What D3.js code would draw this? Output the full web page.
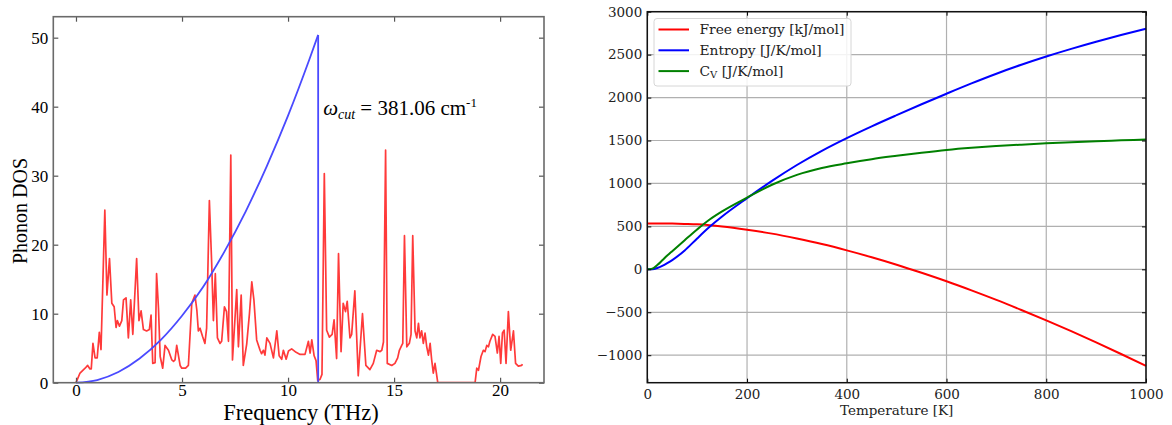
<!DOCTYPE html>
<html><head><meta charset="utf-8">
<script src="https://cdn.jsdelivr.net/npm/d3@7"></script>
<style>
html,body{margin:0;padding:0;background:#fff;}
svg{display:block;}
</style></head>
<body>
<svg id="chart" width="1172" height="425"></svg>
<script>
// ---------- Left panel: phonon DOS ----------
const dosFreq = [0.00,0.19,0.43,0.55,0.66,0.72,0.80,0.90,1.00,1.10,1.18,1.36,1.46,1.58,1.69,1.80,1.89,1.95,2.05,2.16,2.24,2.36,2.47,2.58,2.68,2.86,2.97,3.07,3.18,3.33,3.46,3.54,3.62,3.73,3.80,3.89,3.97,4.09,4.20,4.36,4.52,4.60,4.67,4.75,4.91,4.99,5.17,5.30,5.46,5.61,5.70,5.77,5.85,5.97,6.08,6.16,6.29,6.40,6.48,6.57,6.67,6.79,6.87,7.00,7.10,7.19,7.30,7.38,7.58,7.66,7.79,7.89,8.05,8.18,8.29,8.39,8.52,8.68,8.75,8.84,8.91,9.00,9.15,9.31,9.47,9.58,9.70,9.78,9.91,10.02,10.17,10.38,10.57,10.80,10.96,11.04,11.12,11.23,11.32,11.40,11.51,11.60,11.71,11.82,11.95,12.08,12.17,12.29,12.38,12.50,12.60,12.71,12.79,12.92,13.00,13.15,13.31,13.51,13.67,13.86,14.02,14.18,14.34,14.42,14.50,14.60,14.68,14.89,15.04,15.17,15.25,15.36,15.41,15.49,15.60,15.72,15.80,15.88,15.99,16.07,16.15,16.22,16.30,16.38,16.46,16.54,16.62,16.70,16.77,16.85,16.93,17.06,18.82,18.90,18.98,19.10,19.21,19.29,19.37,19.45,19.52,19.65,19.76,19.87,19.95,20.03,20.11,20.19,20.28,20.39,20.50,20.63,20.73,20.86,21.02,21.05];
const dosValue = [0,1.4,2.1,2.5,2.0,2.0,5.7,3.6,3.6,7.3,4.8,25.0,12.7,18.0,11.5,11.0,8.0,9.0,8.2,9.0,12.0,12.3,6.5,12.0,7.0,18.0,9.0,10.4,7.7,7.5,7.7,9.8,2.8,2.9,15.8,10.8,3.8,2.1,5.4,4.7,3.3,3.1,3.3,5.4,2.5,2.1,2.1,2.5,11.5,12.7,10.5,7.5,7.9,6.7,5.7,7.9,26.4,17.2,9.0,15.8,6.5,5.7,6.0,11.0,10.3,6.0,33.0,3.3,13.5,5.2,12.7,2.5,5.6,10.0,14.6,12.0,6.2,4.7,4.2,4.7,4.0,6.5,5.7,3.6,7.5,3.9,3.4,4.7,3.4,4.6,4.9,4.4,4.1,4.1,6.0,4.3,6.2,3.9,3.2,0.3,0.5,1.2,30.3,7.6,6.6,7.0,9.1,3.5,18.7,4.5,11.5,10.3,11.8,6.5,7.0,13.3,1.0,10.0,2.5,1.9,2.8,4.7,4.5,4.7,5.9,33.7,2.8,2.5,2.8,3.6,4.7,5.4,5.7,21.3,5.2,5.7,7.0,21.3,7.5,6.5,8.6,6.5,7.5,5.7,7.2,5.2,4.0,5.7,3.4,1.4,2.8,0,0,2.1,1.8,3.8,4.7,4.5,5.4,5.2,6.0,7.0,6.7,4.3,6.7,2.8,7.2,7.6,2.8,10.3,4.7,7.5,2.8,2.4,2.5,2.7];
const debyeFreq = [0,1,2,3,4,5,6,7,8,9,10,11,11.42];
const debyeValue = [0,0.39,1.55,3.5,6.2,9.7,13.9,19.0,24.8,31.4,38.7,46.8,50.4];
const cutoffFreq = 11.42;
const leftXTicks = [0,5,10,15,20];
const leftYTicks = [0,10,20,30,40,50];

// ---------- Right panel: thermal properties ----------
const temps        = [0,10,20,30,40,50,75,100,125,150,200,250,300,350,400,450,500,550,600,650,700,750,800,850,900,950,1000];
const freeEnergy   = [535,535,535,534,534,533,529,524,514,500,462,416,358,294,221,141,54,-40,-139,-245,-356,-473,-594,-720,-851,-986,-1124];
const entropy      = [0,2,16,40,72,108,220,360,495,615,828,1030,1215,1380,1528,1665,1795,1922,2045,2165,2278,2382,2478,2567,2650,2728,2802];
const heatCapacity = [0,8,50,105,160,212,340,465,580,675,835,985,1100,1180,1235,1283,1322,1358,1390,1415,1435,1452,1467,1480,1492,1502,1512];
const rightXTicks = [0,200,400,600,800,1000];
const rightYTicks = [-1000,-500,0,500,1000,1500,2000,2500,3000];

const svg = d3.select("#chart");

// ===== Left panel =====
(function(){
  const L = {x0:53.3, x1:544, y0:16.7, y1:382.7};
  const x = d3.scaleLinear().domain([-1.07, 22.07]).range([L.x0, L.x1]);
  const y = d3.scaleLinear().domain([0, 53.04]).range([L.y1, L.y0]);
  const g = svg.append("g");
  const serif = "'Liberation Serif','Times New Roman',serif";

  g.append("clipPath").attr("id","clipL").append("rect")
    .attr("x",L.x0).attr("y",L.y0).attr("width",L.x1-L.x0).attr("height",L.y1-L.y0);

  const pts = dosFreq.map((f,i)=>[f,dosValue[i]]);
  g.append("path").datum(pts)
    .attr("clip-path","url(#clipL)")
    .attr("fill","none").attr("stroke","#ff3a3a").attr("stroke-width",1.7)
    .attr("stroke-linejoin","round")
    .attr("d", d3.line().x(d=>x(d[0])).y(d=>y(d[1])));

  const dpts = debyeFreq.map((f,i)=>[f,debyeValue[i]]);
  g.append("path").datum(dpts)
    .attr("fill","none").attr("stroke","#4a4aff").attr("stroke-width",1.8)
    .attr("d", d3.line().x(d=>x(d[0])).y(d=>y(d[1])).curve(d3.curveMonotoneX));
  g.append("line")
    .attr("x1",x(cutoffFreq)).attr("x2",x(cutoffFreq))
    .attr("y1",y(debyeValue[debyeValue.length-1])).attr("y2",y(0))
    .attr("stroke","#4a4aff").attr("stroke-width",1.8);

  const axB = d3.axisBottom(x).tickValues(leftXTicks).tickSizeInner(-5).tickSizeOuter(0).tickPadding(1.5);
  const axT = d3.axisTop(x).tickValues(leftXTicks).tickSizeInner(-5).tickSizeOuter(0).tickFormat("");
  const axLft = d3.axisLeft(y).tickValues(leftYTicks).tickSizeInner(-5).tickSizeOuter(0).tickPadding(5);
  const axR = d3.axisRight(y).tickValues(leftYTicks).tickSizeInner(-5).tickSizeOuter(0).tickFormat("");
  const style = s => { s.select(".domain").remove(); s.selectAll("line").attr("stroke","#555").attr("stroke-width",1.2);
    s.selectAll("text").attr("font-family",serif).attr("font-size",17).attr("fill","#000"); };
  g.append("g").attr("transform",`translate(0,${L.y1})`).call(axB).call(style);
  g.append("g").attr("transform",`translate(0,${L.y0})`).call(axT).call(style);
  g.append("g").attr("transform",`translate(${L.x0},0)`).call(axLft).call(style);
  g.append("g").attr("transform",`translate(${L.x1},0)`).call(axR).call(style);

  g.append("rect").attr("x",L.x0).attr("y",L.y0).attr("width",L.x1-L.x0).attr("height",L.y1-L.y0)
    .attr("fill","none").attr("stroke","#6a6a6a").attr("stroke-width",1.6);

  g.append("text").attr("x",301).attr("y",420.2).attr("text-anchor","middle")
    .attr("font-family",serif).attr("font-size",22.5).text("Frequency (THz)");
  g.append("text").attr("transform",`translate(27,211) rotate(-90)`).attr("text-anchor","middle")
    .attr("font-family",serif).attr("font-size",20).text("Phonon DOS");

  const ann = g.append("text").attr("x",x(cutoffFreq)+5).attr("y",115)
    .attr("font-family",serif).attr("font-size",21);
  ann.append("tspan").attr("font-style","italic").text("ω");
  ann.append("tspan").attr("font-style","italic").attr("font-size",14).attr("dy",4).text("cut");
  ann.append("tspan").attr("dy",-4).text(" = 381.06 cm");
  ann.append("tspan").attr("font-size",13).attr("dy",-8).text("-1");
})();

// ===== Right panel =====
(function(){
  const R = {x0:647.3, x1:1146, y0:11.7, y1:382.7};
  const x = d3.scaleLinear().domain([0,1000]).range([R.x0,R.x1]);
  const y = d3.scaleLinear().domain([-1320,3000]).range([R.y1,R.y0]);
  const g = svg.append("g");
  const font = "'DejaVu Serif',serif";

  g.append("g").selectAll("line").data(rightXTicks).join("line")
    .attr("x1",d=>x(d)).attr("x2",d=>x(d)).attr("y1",R.y0).attr("y2",R.y1)
    .attr("stroke","#b0b0b0").attr("stroke-width",1.2);
  g.append("g").selectAll("line").data(rightYTicks).join("line")
    .attr("y1",d=>y(d)).attr("y2",d=>y(d)).attr("x1",R.x0).attr("x2",R.x1)
    .attr("stroke","#b0b0b0").attr("stroke-width",1.2);

  const series = [
    {vals: freeEnergy, color:"#ff0000"},
    {vals: entropy, color:"#0000ff"},
    {vals: heatCapacity, color:"#008000"}
  ];
  const line = d3.line().x(d=>x(d[0])).y(d=>y(d[1])).curve(d3.curveMonotoneX);
  series.forEach(s=>{
    g.append("path").datum(temps.map((t,i)=>[t,s.vals[i]]))
      .attr("fill","none").attr("stroke",s.color).attr("stroke-width",2).attr("d",line);
  });

  const axB = d3.axisBottom(x).tickValues(rightXTicks).tickSizeInner(-4).tickSizeOuter(0).tickPadding(7).tickFormat(d3.format("d"));
  const axT = d3.axisTop(x).tickValues(rightXTicks).tickSizeInner(-4).tickSizeOuter(0).tickFormat("");
  const axLft = d3.axisLeft(y).tickValues(rightYTicks).tickSizeInner(-4).tickSizeOuter(0).tickPadding(5)
      .tickFormat(d => d<0 ? "\u2212"+Math.abs(d) : String(d));
  const axR = d3.axisRight(y).tickValues(rightYTicks).tickSizeInner(-4).tickSizeOuter(0).tickFormat("");
  const style = s => { s.select(".domain").remove(); s.selectAll("line").attr("stroke","#000").attr("stroke-width",1);
    s.selectAll("text").attr("font-family",font).attr("font-size",13.5).attr("fill","#222"); };
  g.append("g").attr("transform",`translate(0,${R.y1})`).call(axB).call(style);
  g.append("g").attr("transform",`translate(0,${R.y0})`).call(axT).call(style);
  g.append("g").attr("transform",`translate(${R.x0},0)`).call(axLft).call(style);
  g.append("g").attr("transform",`translate(${R.x1},0)`).call(axR).call(style);

  g.append("rect").attr("x",R.x0).attr("y",R.y0).attr("width",R.x1-R.x0).attr("height",R.y1-R.y0)
    .attr("fill","none").attr("stroke","#111").attr("stroke-width",1.5);

  g.append("text").attr("x",(R.x0+R.x1)/2).attr("y",415).attr("text-anchor","middle")
    .attr("font-family",font).attr("font-size",13.5).attr("fill","#222").text("Temperature [K]");

  const lg = g.append("g");
  lg.append("rect").attr("x",654).attr("y",18.5).attr("width",197).attr("height",67.5).attr("rx",3)
    .attr("fill","rgba(255,255,255,0.85)").attr("stroke","#d6d6d6").attr("stroke-width",1);
  const labels = [
    {t:"Free energy [kJ/mol]", c:"#ff0000"},
    {t:"Entropy [J/K/mol]", c:"#0000ff"},
    {t:"C", sub:"V", rest:" [J/K/mol]", c:"#008000"}
  ];
  labels.forEach((l,i)=>{
    const yy = 29.5 + i*20.8;
    lg.append("line").attr("x1",658.5).attr("x2",689).attr("y1",yy).attr("y2",yy)
      .attr("stroke",l.c).attr("stroke-width",2);
    const t = lg.append("text").attr("x",699.5).attr("y",yy+4.8)
      .attr("font-family",font).attr("font-size",13.8).attr("fill","#222");
    if (l.sub) {
      t.append("tspan").text(l.t);
      t.append("tspan").attr("font-size",10).attr("dy",2).text(l.sub);
      t.append("tspan").attr("dy",-2).text(l.rest);
    } else t.text(l.t);
  });
})();
</script>
</body></html>
